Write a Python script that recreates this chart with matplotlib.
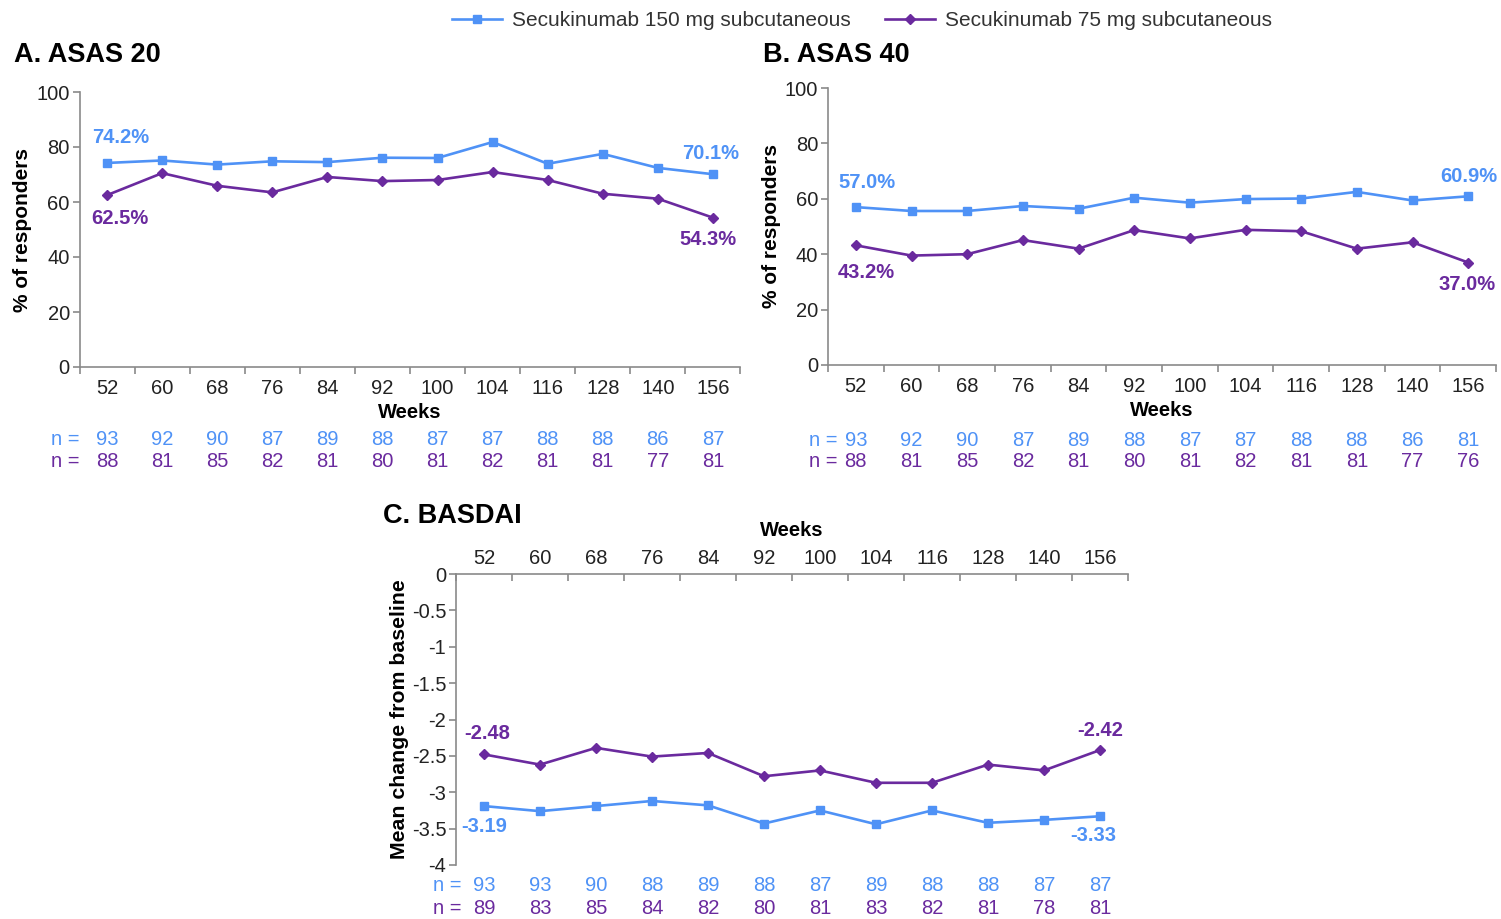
import matplotlib
matplotlib.use("Agg")
import matplotlib.pyplot as plt
from matplotlib.lines import Line2D
import matplotlib.transforms as mtransforms

plt.rcParams["font.family"] = ["Liberation Sans", "DejaVu Sans"]

BLUE = "#4f92f6"
PURPLE = "#6a2a9e"
GRAY = "#8a8a8a"

weeks = ["52", "60", "68", "76", "84", "92", "100", "104", "116", "128", "140", "156"]

# A. ASAS 20 (% responders)
asas20_150 = [74.2, 75.1, 73.6, 74.8, 74.5, 76.1, 76.0, 81.8, 73.9, 77.5, 72.4, 70.1]
asas20_75 = [62.5, 70.5, 65.9, 63.5, 69.1, 67.6, 68.0, 70.9, 68.0, 63.0, 61.2, 54.3]
asas20_n150 = [93, 92, 90, 87, 89, 88, 87, 87, 88, 88, 86, 87]
asas20_n75 = [88, 81, 85, 82, 81, 80, 81, 82, 81, 81, 77, 81]

# B. ASAS 40 (% responders)
asas40_150 = [57.0, 55.6, 55.6, 57.4, 56.4, 60.4, 58.6, 59.9, 60.1, 62.5, 59.4, 60.9]
asas40_75 = [43.2, 39.5, 40.0, 45.1, 42.0, 48.7, 45.7, 48.8, 48.3, 42.0, 44.3, 37.0]
asas40_n150 = [93, 92, 90, 87, 89, 88, 87, 87, 88, 88, 86, 81]
asas40_n75 = [88, 81, 85, 82, 81, 80, 81, 82, 81, 81, 77, 76]

# C. BASDAI (mean change from baseline)
basdai_150 = [-3.19, -3.26, -3.19, -3.12, -3.18, -3.43, -3.25, -3.44, -3.25, -3.42, -3.38, -3.33]
basdai_75 = [-2.48, -2.62, -2.39, -2.51, -2.46, -2.78, -2.70, -2.87, -2.87, -2.62, -2.70, -2.42]
basdai_n150 = [93, 93, 90, 88, 89, 88, 87, 89, 88, 88, 87, 87]
basdai_n75 = [89, 83, 85, 84, 82, 80, 81, 83, 82, 81, 78, 81]

W, H = 1501, 919
FS = 14.5


def px_axes(fig, left, right, top, bottom):
    return fig.add_axes([left / W, 1 - bottom / H, (right - left) / W, (bottom - top) / H])


def draw_lines(ax, y150, y75):
    x = range(len(weeks))
    ax.plot(x, y150, color=BLUE, lw=1.9, marker="s", ms=5.5, mec=BLUE, zorder=3)
    ax.plot(x, y75, color=PURPLE, lw=1.9, marker="D", ms=5, mec=PURPLE, zorder=3)
    ax.set_xlim(-0.5, len(weeks) - 0.5)


def label(ax, i, y, txt, color, dx, dy):
    ax.annotate(txt, (i, y), xytext=(dx, dy), textcoords="offset pixels",
                ha="center", va="center", color=color, fontsize=14.5,
                fontweight="bold")


def n_rows(ax, n150, n75, y1, y2, nx):
    tr = mtransforms.blended_transform_factory(ax.transData, ax.transAxes)
    ax.text(nx, y1, "n =", color=BLUE, fontsize=FS, ha="right", va="center",
            transform=tr)
    ax.text(nx, y2, "n =", color=PURPLE, fontsize=FS, ha="right", va="center",
            transform=tr)
    for i, (a, b) in enumerate(zip(n150, n75)):
        ax.text(i, y1, str(a), color=BLUE, fontsize=FS, ha="center",
                va="center", transform=tr)
        ax.text(i, y2, str(b), color=PURPLE, fontsize=FS, ha="center",
                va="center", transform=tr)


def style_bottom(ax):
    for s in ("top", "right"):
        ax.spines[s].set_visible(False)
    for s in ("left", "bottom"):
        ax.spines[s].set_color(GRAY)
        ax.spines[s].set_linewidth(1.2)
    ax.set_xticks(range(len(weeks)))
    ax.set_xticklabels(weeks)
    ax.set_xticks([i - 0.5 for i in range(len(weeks) + 1)], minor=True)
    ax.tick_params(axis="x", which="major", length=0, pad=9, labelsize=FS,
                   labelcolor="#222")
    ax.tick_params(axis="x", which="minor", length=5, color=GRAY, width=1.2)
    ax.tick_params(axis="y", length=5, color=GRAY, width=1.2, labelsize=FS,
                   labelcolor="#222", pad=2)
    ax.set_ylim(0, 100)
    ax.set_yticks(range(0, 101, 20))
    ax.set_ylabel("% of responders", fontsize=15, fontweight="bold", labelpad=3)
    ax.set_xlabel("Weeks", fontsize=14.5, fontweight="bold", labelpad=3)


fig = plt.figure(figsize=(W / 100, H / 100), dpi=100)

# Panel A
axA = px_axes(fig, 79.5, 740.5, 92, 367)
draw_lines(axA, asas20_150, asas20_75)
style_bottom(axA)
label(axA, 0, asas20_150[0], "74.2%", BLUE, 14, 25)
label(axA, 0, asas20_75[0], "62.5%", PURPLE, 13, -23)
label(axA, 11, asas20_150[-1], "70.1%", BLUE, -2, 21)
label(axA, 11, asas20_75[-1], "54.3%", PURPLE, -5, -22)
n_rows(axA, asas20_n150, asas20_n75, -0.265, -0.345, -0.5)
fig.text(14 / W, 1 - 55 / H, "A. ASAS 20", fontsize=19.5, fontweight="bold",
         va="center", ha="left")

# Panel B
axB = px_axes(fig, 828, 1496, 88, 365)
draw_lines(axB, asas40_150, asas40_75)
style_bottom(axB)
label(axB, 0, asas40_150[0], "57.0%", BLUE, 11, 25)
label(axB, 0, asas40_75[0], "43.2%", PURPLE, 10, -27)
label(axB, 11, asas40_150[-1], "60.9%", BLUE, 1, 20)
label(axB, 11, asas40_75[-1], "37.0%", PURPLE, -1, -22)
n_rows(axB, asas40_n150, asas40_n75, -0.271, -0.350, -0.33)
fig.text(763 / W, 1 - 55 / H, "B. ASAS 40", fontsize=19.5, fontweight="bold",
         va="center", ha="left")

# Panel C
axC = px_axes(fig, 456, 1128, 574, 865)
draw_lines(axC, basdai_150, basdai_75)
for s in ("bottom", "right"):
    axC.spines[s].set_visible(False)
for s in ("left", "top"):
    axC.spines[s].set_color(GRAY)
    axC.spines[s].set_linewidth(1.2)
axC.set_ylim(-4, 0)
yt = [0, -0.5, -1, -1.5, -2, -2.5, -3, -3.5, -4]
axC.set_yticks(yt)
axC.set_yticklabels(["0", "-0.5", "-1", "-1.5", "-2", "-2.5", "-3", "-3.5", "-4"])
axC.xaxis.set_ticks_position("top")
axC.xaxis.set_label_position("top")
axC.set_xticks(range(len(weeks)))
axC.set_xticklabels(weeks)
axC.set_xticks([i - 0.5 for i in range(len(weeks) + 1)], minor=True)
axC.tick_params(axis="x", which="major", length=0, pad=4, labelsize=FS,
                labelcolor="#222")
axC.tick_params(axis="x", which="minor", length=5, direction="in", color=GRAY,
                width=1.2)
axC.tick_params(axis="y", length=5, color=GRAY, width=1.2, labelsize=FS,
                labelcolor="#222", pad=2)
axC.set_xlabel("Weeks", fontsize=14.5, fontweight="bold", labelpad=10)
axC.set_ylabel("Mean change from baseline", fontsize=15.3, fontweight="bold",
               labelpad=2)
label(axC, 0, basdai_75[0], "-2.48", PURPLE, 3, 21)
label(axC, 0, basdai_150[0], "-3.19", BLUE, 0, -20)
label(axC, 11, basdai_75[-1], "-2.42", PURPLE, 0, 20)
label(axC, 11, basdai_150[-1], "-3.33", BLUE, -7, -19)
n_rows(axC, basdai_n150, basdai_n75, -0.072, -0.148, -0.4)
fig.text(383 / W, 1 - 516 / H, "C. BASDAI", fontsize=19.5, fontweight="bold",
         va="center", ha="left")

# Legend
handles = [
    Line2D([], [], color=BLUE, lw=1.9, marker="s", ms=5.5),
    Line2D([], [], color=PURPLE, lw=1.9, marker="D", ms=5),
]
fig.legend(handles, ["Secukinumab 150 mg subcutaneous",
                     "Secukinumab 75 mg subcutaneous"],
           loc="center", bbox_to_anchor=(862 / W, 1 - 21 / H), ncol=2,
           frameon=False, fontsize=15, handlelength=2.4, columnspacing=1.6,
           handletextpad=0.5, labelcolor="#333")

fig.savefig("out.png", dpi=100)
